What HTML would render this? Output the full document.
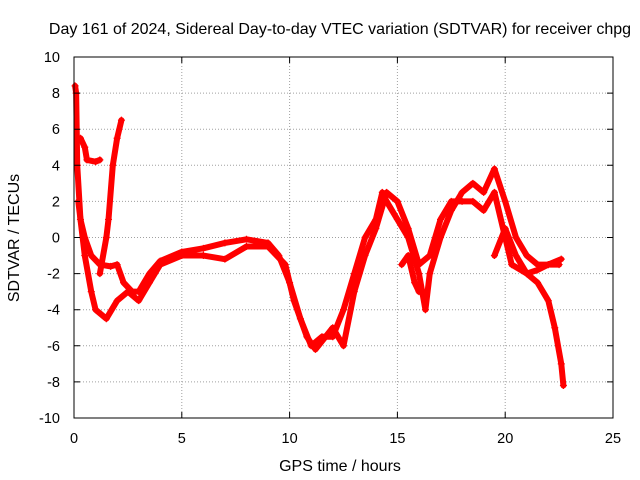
<!DOCTYPE html>
<html><head><meta charset="utf-8"><style>
body{margin:0;background:#fff}
svg{display:block;font-family:"Liberation Sans",sans-serif}
</style></head><body>
<svg id="chart" width="640" height="480">
<text x="340" y="34" font-size="16" text-anchor="middle">Day 161 of 2024, Sidereal Day-to-day VTEC variation (SDTVAR) for receiver chpg</text>
<g id="grid"></g>
<g id="series"></g>
<rect x="74" y="57" width="539" height="361" fill="none" stroke="#000"/>
<g id="axes"></g>
<text x="340" y="471" font-size="16" text-anchor="middle">GPS time / hours</text>
<text transform="translate(19,238) rotate(-90)" font-size="16" text-anchor="middle">SDTVAR / TECUs</text>
</svg>
<script>
const xTicks=[0,5,10,15,20,25];
const yTicks=[-10,-8,-6,-4,-2,0,2,4,6,8,10];
const traceA=[[0.05,8.4],[0.1,8],[0.15,4],[0.3,1],[0.5,0],[0.8,-1],[1.2,-1.5],[1.7,-1.6],[2,-1.5],[2.3,-2.5],[2.7,-3],[3,-3],[3.5,-2],[4,-1.3],[5,-0.8],[6,-0.6],[7,-0.3],[8,-0.1],[9,-0.3],[9.5,-1],[10,-2.5],[10.5,-4.5],[11,-6],[11.5,-5.5],[12,-5.5],[12.5,-4],[13,-2],[13.5,0],[14,1],[14.3,2.5],[14.5,2],[15,1],[15.5,0],[16,-2],[16.3,-4],[16.5,-2],[17,0],[17.5,1.5],[18,2.5],[18.5,3],[19,2.5],[19.5,3.8],[20,2],[20.5,0],[21,-1],[21.5,-1.5],[22,-1.5],[22.6,-1.2]];
const traceB=[[0.2,2],[0.5,-1],[0.8,-3],[1,-4],[1.5,-4.5],[2,-3.5],[2.5,-3],[3,-3.5],[3.5,-2.5],[4,-1.5],[5,-1],[6,-1],[7,-1.2],[8,-0.5],[9,-0.5],[9.8,-1.5],[10.2,-3.5],[10.8,-5.5],[11.2,-6.2],[12,-5],[12.5,-6],[13,-3],[13.5,-1],[14,0.5],[14.5,2.5],[15,2],[15.5,0.5],[16,-1.5],[16.5,-1],[17,1],[17.5,2],[18,2],[18.5,2],[19,1.5],[19.5,2.5],[20,0],[20.3,-1.5],[21,-2],[21.5,-1.8],[22,-1.5],[22.5,-1.5]];
const traceC=[[0.3,5.5],[0.5,5],[0.6,4.3],[1,4.2],[1.2,4.3]];
const traceD=[[1.2,-2],[1.5,0],[1.6,1],[1.8,4],[2,5.5],[2.2,6.5]];
const traceE=[[19.5,-1],[20,0.5],[20.5,-1],[21,-2],[21.5,-2.5],[22,-3.5],[22.3,-5],[22.6,-7],[22.7,-8.2]];
const traceF=[[15.2,-1.5],[15.5,-1],[15.8,-2.5],[16,-3]];
const traces=[traceA,traceB,traceC,traceD,traceE,traceF];
const X=v=>74+v*539/25, Y=v=>237.5-v*361/20;
const NS='http://www.w3.org/2000/svg';
const grid=document.getElementById('grid'),axes=document.getElementById('axes'),ser=document.getElementById('series');
function mk(tag,at,p){const e=document.createElementNS(NS,tag);for(const k in at)e.setAttribute(k,at[k]);p.appendChild(e);return e;}
xTicks.forEach(t=>{
 if(t>0&&t<25){const l=mk('line',{x1:X(t),x2:X(t),y1:57,y2:418,stroke:'#a0a0a0','stroke-dasharray':'1,2'},grid);}
 const tk=mk('path',{d:`M${X(t)},418v-6M${X(t)},57v6`,stroke:'#000'},axes);
 const tx=mk('text',{x:X(t),y:443,'font-size':14.5,'text-anchor':'middle'},axes);tx.textContent=t;
});
yTicks.forEach(t=>{
 if(t>-10&&t<10){const l=mk('line',{x1:74,x2:613,y1:Y(t),y2:Y(t),stroke:'#a0a0a0','stroke-dasharray':'1,2'},grid);}
 const tk=mk('path',{d:`M74,${Y(t)}h6M613,${Y(t)}h-6`,stroke:'#000'},axes);
 const tx=mk('text',{x:60,y:Y(t)+5,'font-size':14.5,'text-anchor':'end'},axes);tx.textContent=t;
});
traces.forEach(tr=>{
 const p=mk('polyline',{points:tr.map(d=>X(d[0])+','+Y(d[1])).join(' '),fill:'none',stroke:'#f00','stroke-width':6,'stroke-linejoin':'round','stroke-linecap':'round'},ser);
 
 tr.forEach(d=>{const m=mk('path',{d:`M${X(d[0])-3.5},${Y(d[1])}h7M${X(d[0])},${Y(d[1])-3.5}v7`,stroke:'#f00','stroke-width':1.2},ser);
 });
});
</script>
</body></html>
